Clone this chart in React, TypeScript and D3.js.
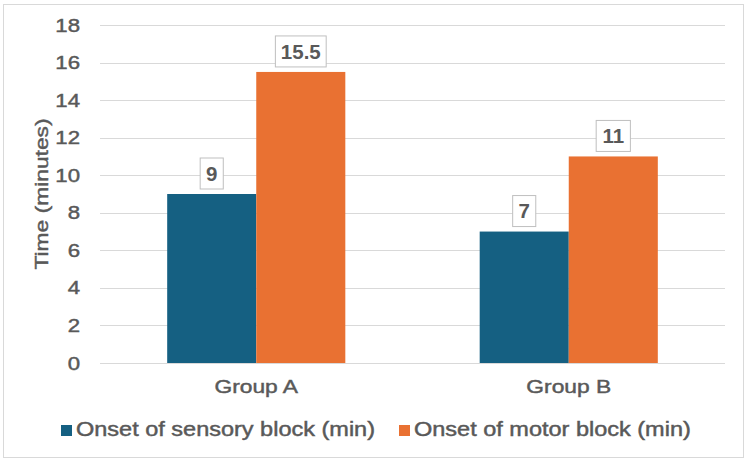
import React from "react";
import * as d3 from "d3";

const categories = ["Group A", "Group B"];
const seriesNames = ["Onset of sensory block (min)", "Onset of motor block (min)"];
const sensoryValues = [9, 7];
const motorValues = [15.5, 11];
const yTicks = [0, 2, 4, 6, 8, 10, 12, 14, 16, 18];
const yTitle = "Time (minutes)";

const W = 750;
const H = 465;
const colors = ["#156082", "#E97132"];
const textColor = "#595959";
const font = "'Liberation Sans', Arial, sans-serif";
const SX = 1.2;
const thick = { stroke: textColor, strokeWidth: 0.45 };

export default function App() {
  const margin = { left: 100, right: 25, top: 25, bottom: 102 };
  const x0 = d3
    .scaleBand<string>()
    .domain(categories)
    .range([margin.left, W - margin.right])
    .paddingInner(0.43)
    .paddingOuter(0.215);
  const x1 = d3.scaleBand<number>().domain([0, 1]).range([0, x0.bandwidth()]);
  const y = d3.scaleLinear().domain([0, 18]).range([H - margin.bottom, margin.top]);
  const series = [sensoryValues, motorValues];

  const legendItems = [
    { x: 61, label: seriesNames[0], color: colors[0] },
    { x: 399, label: seriesNames[1], color: colors[1] },
  ];

  return (
    <svg
      width={W}
      height={H}
      style={{ position: "absolute", left: 0, top: 0, background: "#fff" }}
      fontFamily={font}
    >
      <rect x={3.5} y={4.5} width={740} height={453} fill="#fff" stroke="#d9d9d9" strokeWidth={1} />
      {yTicks.map((t) => (
        <g key={t}>
          <line
            x1={margin.left}
            x2={W - margin.right}
            y1={Math.round(y(t)) + 0.5}
            y2={Math.round(y(t)) + 0.5}
            stroke="#d9d9d9"
            strokeWidth={1}
          />
          <text
            transform={`translate(80, ${y(t) + 6.6}) scale(${SX},1)`}
            textAnchor="end"
            fontSize={18.5}
            fill={textColor}
            {...thick}
          >
            {t}
          </text>
        </g>
      ))}
      <text
        transform={`translate(48, ${(y(0) + y(18)) / 2}) rotate(-90) scale(${SX},1)`}
        textAnchor="middle"
        fontSize={19}
        fill={textColor}
        {...thick}
      >
        {yTitle}
      </text>
      {categories.map((c, ci) =>
        series.map((vals, si) => {
          const bx = (x0(c) as number) + (x1(si) as number);
          const bw = x1.bandwidth();
          return (
            <rect
              key={`${c}-${si}`}
              x={bx}
              y={y(vals[ci])}
              width={bw}
              height={y(0) - y(vals[ci])}
              fill={colors[si]}
            />
          );
        })
      )}
      {categories.map((c, ci) =>
        series.map((vals, si) => {
          const cx = (x0(c) as number) + (x1(si) as number) + x1.bandwidth() / 2;
          const label = String(vals[ci]);
          const tw = label.length * 11.1 - (label.includes(".") ? 5.6 : 0);
          const bw = tw + 12;
          const bh = 31;
          const by = y(vals[ci]) - 5 - bh;
          return (
            <g key={`lbl-${c}-${si}`}>
              <rect x={cx - bw / 2} y={by} width={bw} height={bh} fill="#fff" stroke="#bfbfbf" strokeWidth={1} />
              <text x={cx} y={by + bh / 2 + 7.3} textAnchor="middle" fontSize={20.5} fontWeight="bold" fill={textColor}>
                {label}
              </text>
            </g>
          );
        })
      )}
      {categories.map((c) => (
        <text
          key={c}
          transform={`translate(${(x0(c) as number) + x0.bandwidth() / 2}, 393) scale(${SX},1)`}
          textAnchor="middle"
          fontSize={19}
          fill={textColor}
          {...thick}
        >
          {c}
        </text>
      ))}
      {legendItems.map((it) => (
        <g key={it.label}>
          <rect x={it.x} y={425} width={11} height={11} fill={it.color} />
          <text
            transform={`translate(${it.x + 15}, 436) scale(${SX},1)`}
            fontSize={19.6}
            fill={textColor}
            {...thick}
          >
            {it.label}
          </text>
        </g>
      ))}
    </svg>
  );
}
